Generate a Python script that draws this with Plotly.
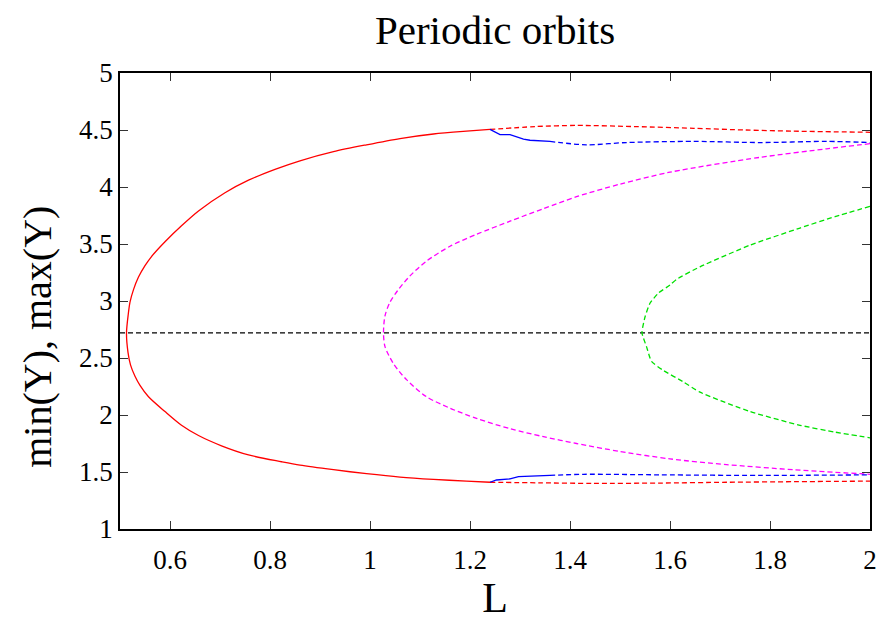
import plotly.graph_objects as go

# Stable branch of the primary orbit (solid red): upper arm -> turning point -> lower arm
red_solid_L = [1.24, 1.193, 1.127, 1.06, 0.993, 0.927, 0.86, 0.81, 0.757, 0.71, 0.657, 0.623,
               0.59, 0.563, 0.55, 0.537, 0.527, 0.52, 0.5167, 0.513, 0.516, 0.521, 0.53, 0.54,
               0.557, 0.59, 0.623, 0.657, 0.703, 0.757, 0.823, 0.86, 0.927, 0.993, 1.06,
               1.127, 1.193, 1.24]
red_solid_Y = [4.505, 4.49, 4.465, 4.425, 4.37, 4.31, 4.23, 4.155, 4.06, 3.95, 3.79, 3.66,
               3.52, 3.39, 3.31, 3.21, 3.10, 2.99, 2.89, 2.72, 2.55, 2.44, 2.34, 2.26,
               2.16, 2.03, 1.91, 1.82, 1.73, 1.65, 1.59, 1.56, 1.52, 1.485, 1.455,
               1.435, 1.42, 1.41]

# Unstable continuation of the primary orbit (dashed red)
red_up_L = [1.24, 1.33, 1.413, 1.53, 1.647, 1.75, 1.847, 2.0]
red_up_Y = [4.505, 4.53, 4.54, 4.53, 4.515, 4.50, 4.49, 4.48]
red_lo_L = [1.24, 1.34, 1.447, 1.58, 1.713, 1.85, 2.0]
red_lo_Y = [1.41, 1.405, 1.40, 1.403, 1.41, 1.415, 1.42]

# Bifurcated branch (blue): solid part, then dashed
blue_up_solid_L = [1.24, 1.247, 1.26, 1.28, 1.307, 1.32, 1.36]
blue_up_solid_Y = [4.505, 4.49, 4.46, 4.46, 4.42, 4.41, 4.40]
blue_up_dash_L = [1.36, 1.433, 1.513, 1.647, 1.78, 1.913, 2.0]
blue_up_dash_Y = [4.40, 4.37, 4.39, 4.40, 4.39, 4.40, 4.39]
blue_lo_solid_L = [1.24, 1.253, 1.28, 1.297, 1.36]
blue_lo_solid_Y = [1.41, 1.43, 1.44, 1.46, 1.47]
blue_lo_dash_L = [1.36, 1.427, 1.58, 1.78, 2.0]
blue_lo_dash_Y = [1.47, 1.48, 1.475, 1.47, 1.475]

# Second orbit family (magenta)
mag_L = [2.0, 1.913, 1.78, 1.6, 1.5, 1.413, 1.347, 1.28, 1.213, 1.16, 1.113, 1.08, 1.055,
         1.04, 1.03, 1.027, 1.03, 1.047, 1.073, 1.113, 1.16, 1.213, 1.28, 1.347, 1.413,
         1.5, 1.6, 1.713, 1.847, 2.0]
mag_Y = [4.38, 4.335, 4.26, 4.13, 4.025, 3.915, 3.81, 3.70, 3.585, 3.48, 3.35, 3.22, 3.09,
         2.99, 2.87, 2.72, 2.60, 2.45, 2.31, 2.16, 2.06, 1.97, 1.88, 1.81, 1.75,
         1.68, 1.615, 1.565, 1.52, 1.48]

# Third orbit family (green)
grn_L = [2.0, 1.93, 1.86, 1.76, 1.66, 1.613, 1.6, 1.577, 1.56, 1.55, 1.544,
         1.553, 1.563, 1.587, 1.627, 1.66, 1.76, 1.86, 1.93, 2.0]
grn_Y = [3.83, 3.74, 3.64, 3.49, 3.30, 3.19, 3.14, 3.07, 2.98, 2.86, 2.72,
         2.60, 2.47, 2.39, 2.29, 2.20, 2.03, 1.91, 1.85, 1.80]

# Equilibrium level
eq_L = [0.5, 2.0]
eq_Y = [2.72, 2.72]

x_ticks = [0.6, 0.8, 1.0, 1.2, 1.4, 1.6, 1.8, 2.0]
x_tick_text = ["0.6", "0.8", "1", "1.2", "1.4", "1.6", "1.8", "2"]
y_ticks = [1, 1.5, 2, 2.5, 3, 3.5, 4, 4.5, 5]
y_tick_text = ["1", "1.5", "2", "2.5", "3", "3.5", "4", "4.5", "5"]

RED = "#ff0000"
BLUE = "#0000ff"
MAG = "#ff00ff"
GRN = "#00e000"
DASH = "5px,3px"
LW = 1.3

fig = go.Figure()


def add(xs, ys, color, dash=None, width=LW, smooth=0.0):
    line = dict(color=color, width=width)
    if dash:
        line["dash"] = dash
    if smooth:
        line["shape"] = "spline"
        line["smoothing"] = smooth
    fig.add_trace(go.Scatter(x=xs, y=ys, mode="lines", line=line,
                             showlegend=False, hoverinfo="skip"))


add(eq_L, eq_Y, "#000000", DASH)
add(mag_L, mag_Y, MAG, DASH, smooth=0.8)
add(grn_L, grn_Y, GRN, DASH, smooth=0.5)
add(red_up_L, red_up_Y, RED, DASH, smooth=0.8)
add(red_lo_L, red_lo_Y, RED, DASH, smooth=0.8)
add(blue_up_dash_L, blue_up_dash_Y, BLUE, DASH, smooth=0.8)
add(blue_lo_dash_L, blue_lo_dash_Y, BLUE, DASH, smooth=0.8)
add(red_solid_L, red_solid_Y, RED, smooth=0.8)
add(blue_up_solid_L, blue_up_solid_Y, BLUE)
add(blue_lo_solid_L, blue_lo_solid_Y, BLUE)

FONT = "Liberation Serif"
axis_common = dict(
    showline=True, linecolor="#000000", linewidth=1.5, mirror="ticks",
    ticks="inside", ticklen=8, tickwidth=1.2, tickcolor="#333333",
    showgrid=False, zeroline=False, automargin=False,
    tickfont=dict(family=FONT, size=27, color="#000000"),
)

fig.update_layout(
    width=884, height=622,
    margin=dict(l=120, r=14, t=73, b=93),
    paper_bgcolor="white", plot_bgcolor="white",
    title=dict(text="Periodic orbits", x=0.56, xanchor="center", y=0.952, yanchor="middle",
               font=dict(family=FONT, size=41, color="#000000")),
    xaxis=dict(range=[0.5, 2.0], tickvals=x_ticks, ticktext=x_tick_text,
               ticklabelstandoff=6,
               title=dict(text="L", font=dict(family=FONT, size=42, color="#000000"), standoff=8),
               **axis_common),
    yaxis=dict(range=[1, 5], tickvals=y_ticks, ticktext=y_tick_text, **axis_common),
    annotations=[dict(text="min(Y), max(Y)", textangle=-90, showarrow=False,
                      xref="paper", yref="paper", x=-0.111, y=0.421,
                      xanchor="center", yanchor="middle",
                      font=dict(family=FONT, size=40, color="#000000"))],
)

fig.write_html("out.html")
